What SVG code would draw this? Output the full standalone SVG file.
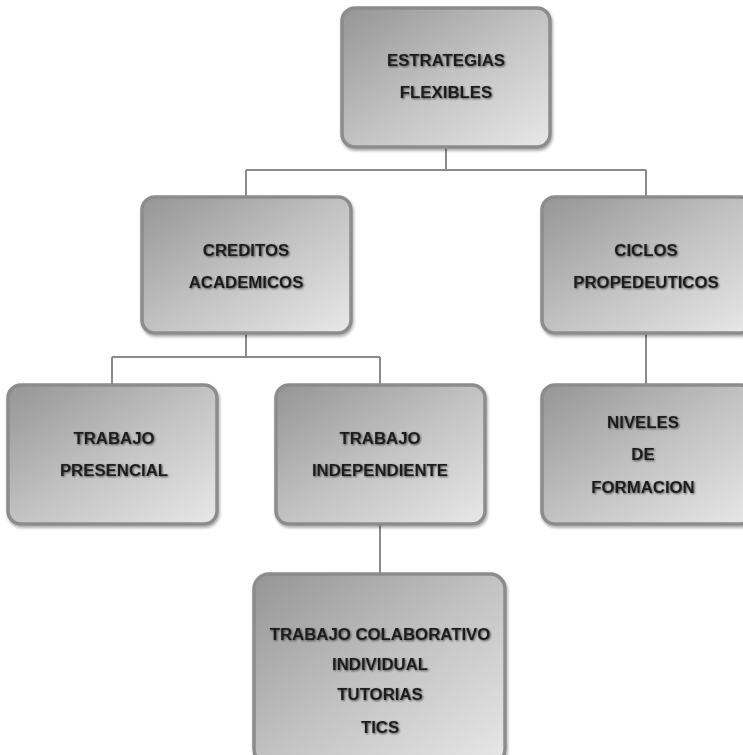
<svg xmlns="http://www.w3.org/2000/svg" width="743" height="755" viewBox="0 0 743 755">
<defs>
<linearGradient id="g" x1="0" y1="0" x2="1" y2="1">
<stop offset="0" stop-color="#959595"/>
<stop offset="0.5" stop-color="#c2c2c2"/>
<stop offset="1" stop-color="#e8e8e8"/>
</linearGradient>
<filter id="sh" x="-10%" y="-10%" width="120%" height="120%">
<feGaussianBlur in="SourceAlpha" stdDeviation="1.5"/>
<feOffset dx="1" dy="2"/>
<feComponentTransfer><feFuncA type="linear" slope="0.35"/></feComponentTransfer>
<feMerge><feMergeNode/><feMergeNode in="SourceGraphic"/></feMerge>
</filter>
<filter id="ts" x="-5%" y="-20%" width="110%" height="140%">
<feGaussianBlur in="SourceAlpha" stdDeviation="1.2"/>
<feOffset dx="0.5" dy="1"/>
<feComponentTransfer><feFuncA type="linear" slope="0.6"/></feComponentTransfer>
<feMerge><feMergeNode/><feMergeNode in="SourceGraphic"/></feMerge>
</filter>
</defs>
<style>
.box{fill:url(#g);stroke:#8c8c8c;stroke-width:3.5;filter:url(#sh)}
.t{font-family:"Liberation Sans",Arial,sans-serif;font-weight:bold;font-size:16.8px;fill:#1e1e1e;text-anchor:middle;filter:url(#ts)}
.c{fill:none;stroke:#8a8a8a;stroke-width:2}
</style>
<rect width="743" height="755" fill="#ffffff"/>
<g id="connectors">
<path class="c" d="M446 147 V170 M246 170 H646 M246 170 V197 M646 170 V197"/>
<path class="c" d="M246 333 V357 M112 357 H380 M112 357 V385 M380 357 V385"/>
<path class="c" d="M646 333 V385"/>
<path class="c" d="M380 524 V573"/>
</g>
<g id="estrategias">
<rect class="box" x="342" y="8" width="208" height="139" rx="13"/>
<text class="t" x="446" y="66">ESTRATEGIAS</text>
<text class="t" x="446" y="98">FLEXIBLES</text>
</g>
<g id="creditos">
<rect class="box" x="142" y="197" width="209" height="136" rx="13"/>
<text class="t" x="246" y="256">CREDITOS</text>
<text class="t" x="246" y="288">ACADEMICOS</text>
</g>
<g id="ciclos">
<rect class="box" x="542" y="197" width="212" height="136" rx="13"/>
<text class="t" x="646" y="256">CICLOS</text>
<text class="t" x="646" y="288">PROPEDEUTICOS</text>
</g>
<g id="presencial">
<rect class="box" x="8" y="385" width="209" height="139" rx="13"/>
<text class="t" x="114" y="444">TRABAJO</text>
<text class="t" x="114" y="476">PRESENCIAL</text>
</g>
<g id="independiente">
<rect class="box" x="276" y="385" width="209" height="139" rx="13"/>
<text class="t" x="380" y="444">TRABAJO</text>
<text class="t" x="380" y="476">INDEPENDIENTE</text>
</g>
<g id="niveles">
<rect class="box" x="542" y="385" width="212" height="139" rx="13"/>
<text class="t" x="643" y="428">NIVELES</text>
<text class="t" x="643" y="460">DE</text>
<text class="t" x="643" y="493">FORMACION</text>
</g>
<g id="colaborativo">
<rect class="box" x="254" y="574" width="251" height="190" rx="15"/>
<text class="t" x="380" y="640">TRABAJO COLABORATIVO</text>
<text class="t" x="380" y="670">INDIVIDUAL</text>
<text class="t" x="380" y="700">TUTORIAS</text>
<text class="t" x="380" y="733">TICS</text>
</g>
</svg>
